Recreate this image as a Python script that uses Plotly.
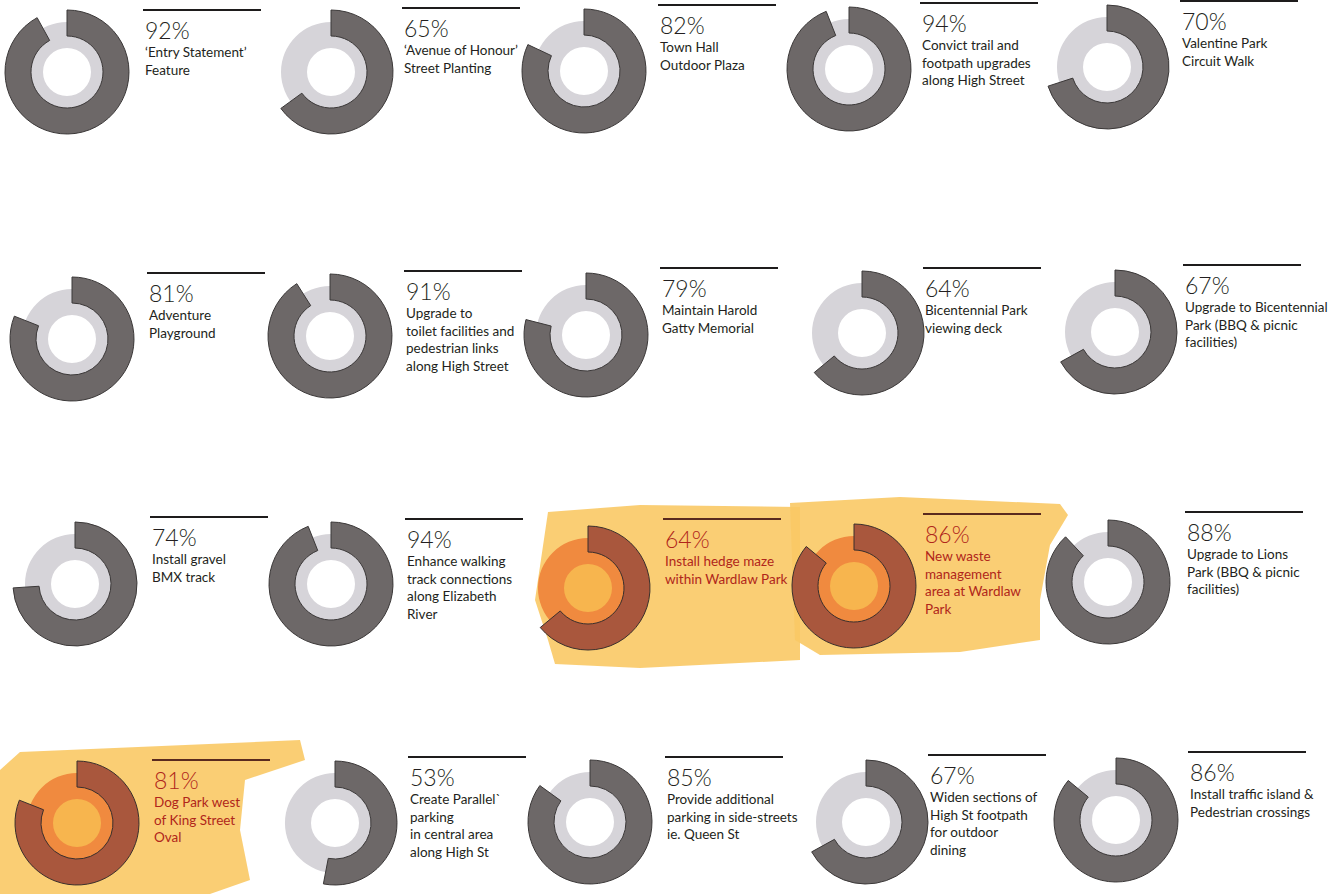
import plotly.graph_objects as go

# ---------------- data ----------------
values = [92, 65, 82, 94, 70,
          81, 91, 79, 64, 67,
          74, 94, 64, 86, 88,
          81, 53, 85, 67, 86]
labels = [
    "‘Entry Statement’<br>Feature",
    "‘Avenue of Honour’<br>Street Planting",
    "Town Hall<br>Outdoor Plaza",
    "Convict trail and<br>footpath upgrades<br>along High Street",
    "Valentine Park<br>Circuit Walk",
    "Adventure<br>Playground",
    "Upgrade to<br>toilet facilities and<br>pedestrian links<br>along High Street",
    "Maintain Harold<br>Gatty Memorial",
    "Bicentennial Park<br>viewing deck",
    "Upgrade to Bicentennial<br>Park (BBQ &amp; picnic<br>facilities)",
    "Install gravel<br>BMX track",
    "Enhance walking<br>track connections<br>along Elizabeth<br>River",
    "Install hedge maze<br>within Wardlaw Park",
    "New waste<br>management<br>area at Wardlaw<br>Park",
    "Upgrade to Lions<br>Park (BBQ &amp; picnic<br>facilities)",
    "Dog Park west<br>of King Street<br>Oval",
    "Create Parallel`<br>parking<br>in central area<br>along High St",
    "Provide additional<br>parking in side-streets<br>ie. Queen St",
    "Widen sections of<br>High St footpath<br>for outdoor<br>dining",
    "Install traffic island &amp;<br>Pedestrian crossings",
]
highlighted = [False, False, False, False, False,
               False, False, False, False, False,
               False, False, True, True, False,
               True, False, False, False, False]

# ---------------- layout constants (pixels) ----------------
W, H = 1343, 894
centers = [(67, 72), (331, 72), (584, 71), (849, 69), (1107, 67),
           (72, 339), (330, 336), (586, 335), (862, 333), (1115, 332),
           (75, 584), (331, 584), (588, 588), (854, 586), (1108, 582),
           (77, 823), (335, 823), (590, 822), (866, 822), (1116, 820)]
rules = [(143, 10), (402, 8), (658, 5), (920, 3), (1180, 1),
         (147, 273), (404, 271), (660, 268), (923, 268), (1183, 265),
         (150, 517), (405, 519), (663, 519), (923, 514), (1185, 512),
         (152, 760), (408, 757), (665, 757), (928, 755), (1188, 752)]
RULE_LEN = 118
R_OUT, R_LIGHT, R_HOLE = 62, 50, 24
HOLE_DARK, HOLE_LIGHT = 36 / 62, 24 / 50

DARK, LIGHT = "#6d6868", "#d6d4d9"
H_DARK, H_LIGHT, H_CENTER = "#a9573d", "#f08a3f", "#f7b54e"
TXT, H_TXT = "#231f20", "#b0261b"
HL_FILL = "#f9c965"

fig = go.Figure()


def dom(cx, cy, r):
    return dict(x=[(cx - r) / W, (cx + r) / W], y=[1 - (cy + r) / H, 1 - (cy - r) / H])


for i, v in enumerate(values):
    cx, cy = centers[i]
    hl = highlighted[i]
    if hl:
        fig.add_trace(go.Pie(
            values=[100], domain=dom(cx, cy, R_HOLE + 1), sort=False,
            marker=dict(colors=[H_CENTER], line=dict(width=0)),
            textinfo="none", hoverinfo="skip", showlegend=False))
    fig.add_trace(go.Pie(
        values=[100], domain=dom(cx, cy, R_LIGHT), hole=HOLE_LIGHT, sort=False,
        marker=dict(colors=[H_LIGHT if hl else LIGHT], line=dict(width=0)),
        textinfo="none", hoverinfo="skip", showlegend=False))
    fig.add_trace(go.Pie(
        values=[v, 100 - v], domain=dom(cx, cy, R_OUT), hole=HOLE_DARK, sort=False,
        direction="clockwise", rotation=0,
        marker=dict(colors=[H_DARK if hl else DARK, "rgba(0,0,0,0)"],
                    line=dict(color=["#3a2f2c" if hl else "#3b3838", "rgba(0,0,0,0)"], width=[1, 0])),
        textinfo="none", hoverinfo="skip", showlegend=False))

shapes = []
# highlighter strokes
shapes.append(dict(type="path", xref="x", yref="y", layer="below", line=dict(width=0),
                   fillcolor=HL_FILL, opacity=0.9,
                   path="M 548 512 L 640 505 L 800 507 L 800 660 L 640 668 L 555 664 L 548 640 L 535 600 Z"))
shapes.append(dict(type="path", xref="x", yref="y", layer="below", line=dict(width=0),
                   fillcolor=HL_FILL, opacity=0.9,
                   path="M 790 503 L 900 497 L 1060 504 L 1068 515 L 1050 545 L 1040 600 L 1040 640 L 960 652 L 820 655 L 795 640 Z"))
shapes.append(dict(type="path", xref="x", yref="y", layer="below", line=dict(width=0),
                   fillcolor=HL_FILL, opacity=0.9,
                   path="M 20 752 L 300 740 L 305 760 L 245 780 L 240 830 L 250 880 L 210 894 L 0 894 L 0 770 Z"))

for i in range(len(values)):
    x0, y0 = rules[i]
    col = "#5a2a1e" if highlighted[i] else "#1e1c1c"
    shapes.append(dict(type="line", xref="x", yref="y", x0=x0, x1=x0 + RULE_LEN, y0=y0, y1=y0,
                       line=dict(color=col, width=2)))

annotations = []
for i, v in enumerate(values):
    x0, y0 = rules[i]
    c = H_TXT if highlighted[i] else TXT
    annotations.append(dict(xref="x", yref="y", x=x0, y=y0 + 4, xanchor="left", yanchor="top",
                            text=f"{v}%", showarrow=False, align="left",
                            font=dict(family="Lato", size=23, color=c, weight=300)))
    annotations.append(dict(xref="x", yref="y", x=x0, y=y0 + 32, xanchor="left", yanchor="top",
                            text=labels[i], showarrow=False, align="left",
                            font=dict(family="Lato", size=13.5, color=c)))

fig.update_layout(
    width=W, height=H, margin=dict(l=0, r=0, t=0, b=0),
    paper_bgcolor="white", plot_bgcolor="rgba(0,0,0,0)",
    xaxis=dict(range=[0, W], visible=False, fixedrange=True),
    yaxis=dict(range=[H, 0], visible=False, fixedrange=True),
    shapes=shapes, annotations=annotations,
)

fig.write_html("out.html")
